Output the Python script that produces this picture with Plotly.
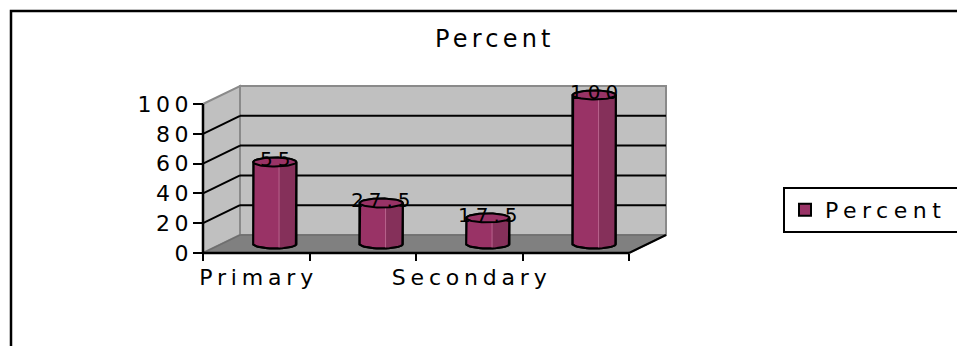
import numpy as np
import plotly.graph_objects as go

# ---- data -------------------------------------------------------------
categories = ["Primary", "Middle", "Secondary", "Total"]
percent = [55, 27.5, 17.5, 100]
y_ticks = [0, 20, 40, 60, 80, 100]
series_name = "Percent"
chart_title = "Percent"

# ---- geometry / style constants ---------------------------------------
W, H = 957, 346
X0_PX, CAT_PX = 203, 106.5      # pixel of x=0 and pixels per category
Y0_PX, UNIT_PX = 253, 1.49      # pixel of value 0 and pixels per value unit
X_RANGE = [-0.1, 4.5]
Y_RANGE = [-4, 116]

DEPTH_X = 37 / CAT_PX           # depth offset of the back wall (category units)
DEPTH_Y = 18 / UNIT_PX          # depth offset of the back wall (value units)
RX = 21.5 / CAT_PX              # cylinder radius (x units)
RY = 4.5 / UNIT_PX              # ellipse half height (value units)

PURPLE = "#993366"
PURPLE_DARK = "#85305a"
PURPLE_LIGHT = "#b8638d"
WALL = "#c0c0c0"
FLOOR = "#808080"
EDGE = "#8a8a8a"
FONT = "DejaVu Sans"


def spaced(text, px):
    """Letter-spaced text (no trailing gap after the last glyph)."""
    return f'<span style="letter-spacing:{px}px">{text[:-1]}</span>{text[-1]}'


def paper_x(px):
    return px / W


def paper_y(py):
    return 1 - py / H


n = len(categories)
x_domain = [paper_x(X0_PX + X_RANGE[0] * CAT_PX), paper_x(X0_PX + X_RANGE[1] * CAT_PX)]
y_domain = [paper_y(Y0_PX - Y_RANGE[0] * UNIT_PX), paper_y(Y0_PX - Y_RANGE[1] * UNIT_PX)]

fig = go.Figure()

# ---- chart walls and floor (pseudo 3-D box) ---------------------------
shapes = []
top_v = y_ticks[-1]


def line(x0, y0, x1, y1, color="black", width=2):
    shapes.append(dict(type="line", xref="x", yref="y", x0=x0, y0=y0, x1=x1, y1=y1,
                       line=dict(color=color, width=width), layer="below"))


def poly(pts, fill, color=None, width=0):
    path = "M " + " L ".join(f"{x},{y}" for x, y in pts) + " Z"
    shapes.append(dict(type="path", xref="x", yref="y", path=path, fillcolor=fill,
                       line=dict(color=color or fill, width=width), layer="below"))


# back wall
poly([(DEPTH_X, DEPTH_Y), (n + DEPTH_X, DEPTH_Y), (n + DEPTH_X, top_v + DEPTH_Y),
      (DEPTH_X, top_v + DEPTH_Y)], WALL, EDGE, 2)
# side wall
poly([(0, 0), (DEPTH_X, DEPTH_Y), (DEPTH_X, top_v + DEPTH_Y), (0, top_v)], WALL, EDGE, 2)
# gridlines on back and side walls
for v in y_ticks[1:-1]:
    line(DEPTH_X, v + DEPTH_Y, n + DEPTH_X, v + DEPTH_Y)
    line(0, v, DEPTH_X, v + DEPTH_Y)
# floor
poly([(0, 0), (n, 0), (n + DEPTH_X, DEPTH_Y), (DEPTH_X, DEPTH_Y)], FLOOR, "#6e6e6e", 1.5)
line(0, 0, n, 0, width=2.5)
line(n, 0, n + DEPTH_X, DEPTH_Y, width=2)
# value axis line
line(0, 0, 0, top_v, width=2.5)

# outer chart frame
shapes.append(dict(type="rect", xref="paper", yref="paper",
                   x0=paper_x(11), x1=1.03, y0=-0.03, y1=paper_y(11),
                   line=dict(color="black", width=2.5), layer="below"))

# ---- bars ---------------------------------------------------------------
xc = [i + 0.5 + DEPTH_X / 2 for i in range(n)]
base = DEPTH_Y / 2

fig.add_trace(go.Bar(
    x=xc, y=percent, base=base, width=2 * RX, name=spaced(series_name, 5.5),
    marker=dict(color=PURPLE, line=dict(color="black", width=2)),
    hoverinfo="skip",
))

th = np.linspace(0, np.pi, 48)
for cx, v in zip(xc, percent):
    top = base + v
    # cylinder silhouette
    sx = [cx - RX] + list(cx - RX * np.cos(th)) + list(cx + RX * np.cos(th)) + [cx - RX]
    sy = [base] + list(top + RY * np.sin(th)) + list(base - RY * np.sin(th)) + [base]
    fig.add_trace(go.Scatter(x=sx, y=sy, mode="lines", fill="toself", fillcolor=PURPLE,
                             line=dict(color="black", width=2), showlegend=False,
                             hoverinfo="skip"))
    # darker right-hand side of the cylinder
    xs = cx + 0.2 * RX
    u = np.linspace(xs, cx + RX, 24)
    arc = RY * np.sqrt(np.clip(1 - ((u - cx) / RX) ** 2, 0, 1))
    hx = list(u) + list(u[::-1])
    hy = list(top - arc) + list((base - arc)[::-1])
    fig.add_trace(go.Scatter(x=hx, y=hy, mode="lines", fill="toself", fillcolor=PURPLE_DARK,
                             line=dict(width=0), showlegend=False, hoverinfo="skip"))
    a0 = RY * np.sqrt(1 - ((xs - cx) / RX) ** 2)
    fig.add_trace(go.Scatter(x=[xs, xs], y=[base - a0, top - a0], mode="lines",
                             line=dict(color=PURPLE_LIGHT, width=1), showlegend=False,
                             hoverinfo="skip"))
    # right outline redrawn over the shade, plus the bottom arc
    bx = list(cx + RX * np.cos(th))
    by = list(base - RY * np.sin(th))
    fig.add_trace(go.Scatter(x=[cx + RX] + bx, y=[top] + by, mode="lines",
                             line=dict(color="black", width=2), showlegend=False,
                             hoverinfo="skip"))
    # top face
    t2 = np.linspace(0, 2 * np.pi, 72)
    fig.add_trace(go.Scatter(x=cx + RX * np.cos(t2), y=top + RY * np.sin(t2), mode="lines",
                             fill="toself", fillcolor=PURPLE,
                             line=dict(color="black", width=2), showlegend=False,
                             hoverinfo="skip"))

# ---- value labels ---------------------------------------------------------
annotations = []
for cx, v in zip(xc, percent):
    annotations.append(dict(x=cx, y=base + v, xref="x", yref="y", text=spaced(f"{v:g}", 5),
                            showarrow=False, yshift=3, xanchor="center", yanchor="middle",
                            font=dict(family=FONT, size=20, color="black")))

annotations.append(dict(x=paper_x(493), y=paper_y(39), xref="paper", yref="paper",
                        text=spaced(chart_title, 4.2), showarrow=False,
                        xanchor="center", yanchor="middle",
                        font=dict(family=FONT, size=24, color="black")))

# category labels: every second slot is labelled
label_idx = list(range(0, n, 2))

fig.update_layout(
    width=W, height=H,
    margin=dict(l=0, r=0, t=0, b=0, autoexpand=False),
    paper_bgcolor="white", plot_bgcolor="rgba(0,0,0,0)",
    shapes=shapes, annotations=annotations,
    showlegend=True,
    legend=dict(x=paper_x(783), y=paper_y(187), xanchor="left", yanchor="top",
                orientation="h", entrywidth=200, entrywidthmode="pixels",
                bordercolor="black", borderwidth=2, bgcolor="white",
                font=dict(family=FONT, size=22, color="black")),
    xaxis=dict(range=X_RANGE, domain=x_domain, anchor="free", position=paper_y(Y0_PX),
               showgrid=False, zeroline=False, showline=False,
               tickmode="array", tickvals=[i + 0.5 for i in label_idx],
               ticktext=[spaced(categories[i], 4.8) for i in label_idx],
               ticks="", ticklabelstandoff=9,
               tickfont=dict(family=FONT, size=22, color="black"),
               minor=dict(tickmode="array", tickvals=list(range(n + 1)), ticks="outside",
                          ticklen=7, tickwidth=2, tickcolor="black")),
    yaxis=dict(range=Y_RANGE, domain=y_domain, anchor="free", position=paper_x(X0_PX),
               showgrid=False, zeroline=False, showline=False,
               tickmode="array", tickvals=y_ticks,
               ticktext=[spaced(str(t), 4.5) if len(str(t)) > 1 else str(t) for t in y_ticks],
               ticks="outside", ticklen=10, tickwidth=2, tickcolor="black",
               tickfont=dict(family=FONT, size=22, color="black")),
    bargap=0,
)

fig.write_html("out.html")
